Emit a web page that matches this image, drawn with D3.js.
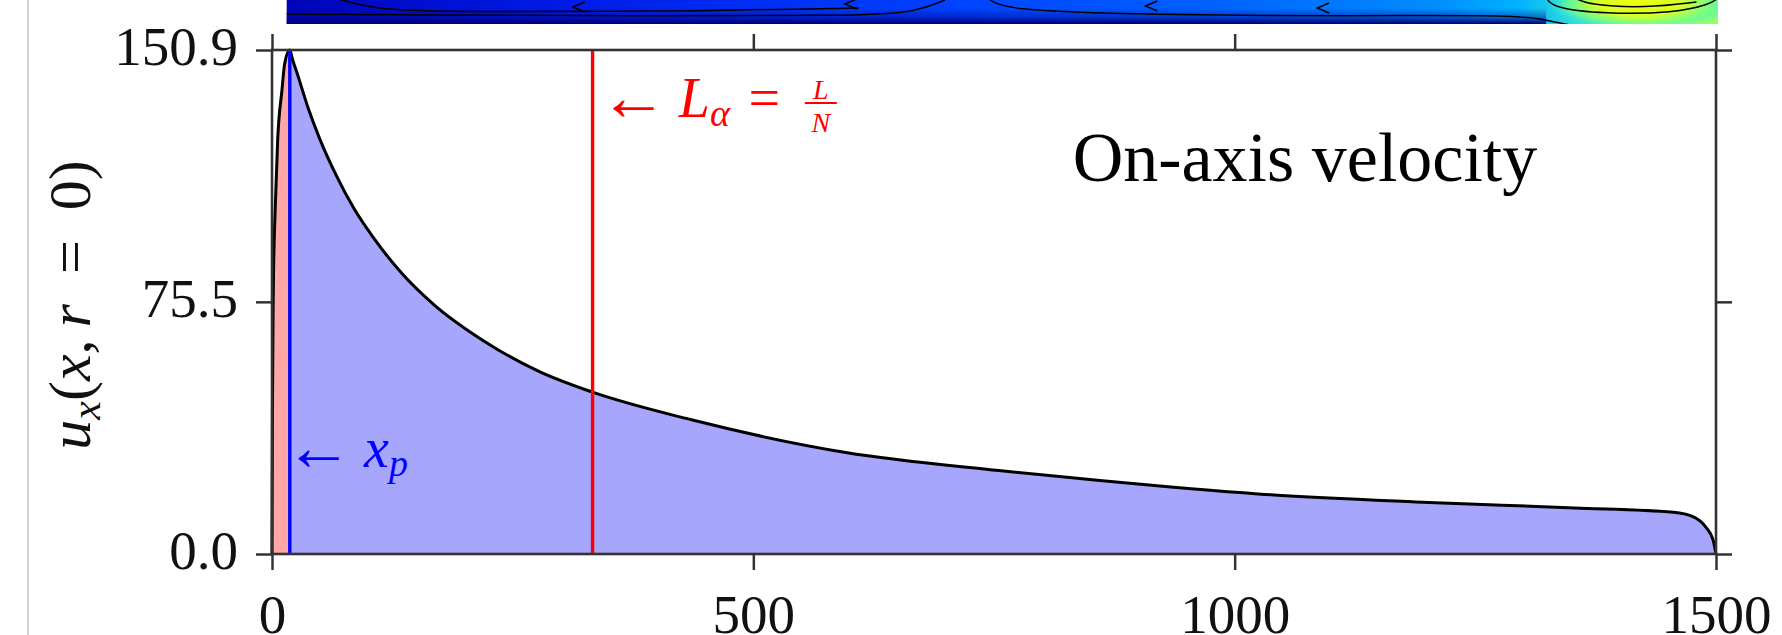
<!DOCTYPE html>
<html>
<head>
<meta charset="utf-8">
<script src="https://cdn.jsdelivr.net/npm/d3@7.9.0/dist/d3.min.js"></script>
<style>
  html, body { margin: 0; padding: 0; background: #fff; overflow: hidden; }
  svg { display: block; }
  text { font-family: "Liberation Serif", "DejaVu Serif", serif; }
</style>
</head>
<body>
<svg id="chart" width="1782" height="635"></svg>
<script>
// values
const xTicks = [0, 500, 1000, 1500];
const yTicks = [0, 75.5, 150.9];
const xPos = [0, 0.5, 1.2, 1.6, 3.4, 5.9, 10.4, 13, 18.5, 21.4, 26.6, 37, 50, 66.5, 85, 104.6, 135, 166.9, 220, 277.8, 331.5, 436.8, 596, 755, 860, 1024, 1188, 1353, 1456, 1476, 1489, 1497, 1500];
const uAxis = [0, 45, 75, 84, 104, 124, 139, 146.5, 150.9, 148, 143.5, 134, 124, 113.5, 103.5, 95, 84, 75, 63.8, 54.6, 48.6, 40.1, 30.4, 25, 22, 18, 15.6, 13.8, 12.5, 11.2, 8.2, 4.2, 0];
const xPeak = 18.5;
const lAlpha = 333;
const stripExtent = [15, 1502];

const data = xPos.map((d, i) => ({ x: d, u: uAxis[i] }));

const svg = d3.select("#chart");
const margin = { top: 50, right: 66, bottom: 81, left: 272 };
const width = +svg.attr("width") - margin.left - margin.right;
const height = +svg.attr("height") - margin.top - margin.bottom;

// page border line on the far left
svg.append("line")
  .attr("x1", 28).attr("x2", 28).attr("y1", 0).attr("y2", 635)
  .attr("stroke", "#d2d2d2").attr("stroke-width", 2);

const g = svg.append("g").attr("transform", `translate(${margin.left},${margin.top})`);

const x = d3.scaleLinear().domain([0, 1500]).range([0, width]);
const y = d3.scaleLinear().domain([0, 150.9]).range([height, 0]);

// --- the cropped colour-map strip above the axes ---
const defs = svg.append("defs");
const hg = defs.append("linearGradient").attr("id", "stripH");
[[0, "#0004b8"], [0.2, "#001ce8"], [0.45, "#0040ff"], [0.65, "#0062ff"], [0.8, "#008cff"],
 [0.86, "#00b2ff"], [0.9, "#30dcd8"], [0.95, "#c0ff40"], [1, "#90ff70"]]
  .forEach(([o, c]) => hg.append("stop").attr("offset", o).attr("stop-color", c));
const vg = defs.append("linearGradient").attr("id", "stripV").attr("x1", 0).attr("x2", 0).attr("y1", 0).attr("y2", 1);
vg.append("stop").attr("offset", 0).attr("stop-color", "#000080").attr("stop-opacity", 0);
vg.append("stop").attr("offset", 0.55).attr("stop-color", "#000090").attr("stop-opacity", 0.4);
vg.append("stop").attr("offset", 1).attr("stop-color", "#00006a").attr("stop-opacity", 1);
const rg = defs.append("radialGradient").attr("id", "stripBlob");
rg.append("stop").attr("offset", 0).attr("stop-color", "#f0ff10");
rg.append("stop").attr("offset", 0.45).attr("stop-color", "#d8ff28");
rg.append("stop").attr("offset", 0.75).attr("stop-color", "#70ff88").attr("stop-opacity", 0.8);
rg.append("stop").attr("offset", 1).attr("stop-color", "#20e0ff").attr("stop-opacity", 0);
defs.append("clipPath").attr("id", "stripClip").append("rect")
  .attr("x", x(stripExtent[0])).attr("y", -margin.top).attr("width", x(stripExtent[1]) - x(stripExtent[0])).attr("height", 24);

const strip = g.append("g").attr("clip-path", "url(#stripClip)");
const sx0 = x(stripExtent[0]), sw = x(stripExtent[1]) - x(stripExtent[0]);
const sy = f => -margin.top + f;
strip.append("rect").attr("x", sx0).attr("y", sy(0)).attr("width", sw).attr("height", 24).attr("fill", "url(#stripH)");
strip.append("rect").attr("x", sx0).attr("y", sy(8)).attr("width", sw * 0.88).attr("height", 16).attr("fill", "url(#stripV)");
strip.append("ellipse").attr("cx", sx0 + sw * 0.945).attr("cy", sy(4)).attr("rx", 95).attr("ry", 26).attr("fill", "url(#stripBlob)");
const contour = d3.line().curve(d3.curveBasis);
const cpaths = [
  [[0, 14], [0.1, 15], [0.25, 16], [0.4, 16], [0.44, 12], [0.46, 0]],
  [[0.03, -4], [0.06, 10], [0.12, 12], [0.3, 11], [0.4, 8]],
  [[0.49, -2], [0.5, 10], [0.6, 15], [0.75, 16], [0.86, 15], [0.88, 20], [0.9, 26]],
  [[0.88, -2], [0.885, 8], [0.92, 14], [0.97, 13], [0.995, 4], [1, -2]],
  [[0.9, -2], [0.91, 5], [0.95, 8], [0.985, 2]]
];
cpaths.forEach(p => strip.append("path")
  .attr("d", contour(p.map(([f, v]) => [sx0 + f * sw, sy(v)])))
  .attr("fill", "none").attr("stroke", "#000").attr("stroke-width", 1.5));
[[0.2, 7], [0.39, 4], [0.6, 6], [0.72, 8]].forEach(([f, v]) => strip.append("path")
  .attr("d", `M${sx0 + f * sw + 12},${sy(v - 5)} L${sx0 + f * sw},${sy(v)} L${sx0 + f * sw + 12},${sy(v + 5)}`)
  .attr("fill", "none").attr("stroke", "#000").attr("stroke-width", 1.4));

// --- filled areas under the curve ---
const area = d3.area().x(d => x(d.x)).y0(y(0)).y1(d => y(d.u)).curve(d3.curveMonotoneX);
const line = d3.line().x(d => x(d.x)).y(d => y(d.u)).curve(d3.curveMonotoneX);

g.append("path").datum(data.filter(d => d.x <= xPeak))
  .attr("fill", "#ffa6a6").attr("d", area);
g.append("path").datum(data.filter(d => d.x >= xPeak))
  .attr("fill", "#a6a6fd").attr("d", area);

g.append("path").datum(data)
  .attr("fill", "none").attr("stroke", "#000").attr("stroke-width", 3)
  .attr("stroke-linejoin", "round").attr("d", line);

g.append("line")
  .attr("x1", x(xPeak)).attr("x2", x(xPeak)).attr("y1", y(0)).attr("y2", y(150.9))
  .attr("stroke", "#0000ff").attr("stroke-width", 3.4);
g.append("line")
  .attr("x1", x(lAlpha)).attr("x2", x(lAlpha)).attr("y1", y(0)).attr("y2", y(150.9))
  .attr("stroke", "#ff0000").attr("stroke-width", 3.4);

// --- axes: ticks outward on all four sides ---
function styleAxis(sel) {
  sel.select(".domain").remove();
  sel.selectAll(".tick line").attr("stroke", "#333").attr("stroke-width", 2.5);
  sel.selectAll(".tick text").attr("fill", "#111").style("font-size", "55px")
    .style("font-family", "'Liberation Serif', 'DejaVu Serif', serif");
}
g.append("g").attr("transform", `translate(0,${height})`)
  .call(d3.axisBottom(x).tickValues(xTicks).tickFormat(d3.format("d")).tickSize(16).tickPadding(24))
  .call(styleAxis);
g.append("g")
  .call(d3.axisTop(x).tickValues(xTicks).tickFormat("").tickSize(16))
  .call(styleAxis);
g.append("g")
  .call(d3.axisLeft(y).tickValues(yTicks).tickFormat(d3.format(".1f")).tickSize(16).tickPadding(18))
  .call(styleAxis)
  .selectAll(".tick text").attr("dy", "0.26em");
g.append("g").attr("transform", `translate(${width},0)`)
  .call(d3.axisRight(y).tickValues(yTicks).tickFormat("").tickSize(16))
  .call(styleAxis);

g.append("rect").attr("width", width).attr("height", height)
  .attr("fill", "none").attr("stroke", "#333").attr("stroke-width", 2.6);

// --- y axis label u_x(x, r = 0) ---
const yl = g.append("text")
  .attr("transform", `translate(-182,255) rotate(-90)`)
  .attr("text-anchor", "middle")
  .style("font-size", "60px").attr("fill", "#111");
yl.append("tspan").style("font-style", "italic").text("u");
yl.append("tspan").style("font-style", "italic").style("font-size", "42px").attr("dy", 10).text("x");
yl.append("tspan").attr("dy", -10).text("(");
yl.append("tspan").style("font-style", "italic").text("x");
yl.append("tspan").text(",\u2009");
yl.append("tspan").style("font-style", "italic").text("r");
yl.append("tspan").text("\u2002=\u20020)");

// --- annotations ---
const laX = x(lAlpha) + 7;
const la = g.append("text")
  .attr("x", laX).attr("y", 67)
  .attr("fill", "#ff0000").style("font-size", "56px");
la.append("tspan").style("font-size", "68px").attr("dy", 3).text("\u2190");
la.append("tspan").attr("dy", -3).text("\u2009");
la.append("tspan").style("font-style", "italic").text("L");
la.append("tspan").style("font-style", "italic").style("font-size", "38px").attr("dy", 9).text("\u03b1");
la.append("tspan").attr("dy", -9).text("\u2004=\u2004");
const laEnd = laX + la.node().getComputedTextLength() + 6;
g.append("text").attr("x", laEnd + 16).attr("y", 49).attr("text-anchor", "middle")
  .attr("fill", "#ff0000").style("font-size", "28px").style("font-style", "italic").text("L");
g.append("line").attr("x1", laEnd).attr("x2", laEnd + 32).attr("y1", 53).attr("y2", 53)
  .attr("stroke", "#ff0000").attr("stroke-width", 2);
g.append("text").attr("x", laEnd + 16).attr("y", 82).attr("text-anchor", "middle")
  .attr("fill", "#ff0000").style("font-size", "28px").style("font-style", "italic").text("N");

const xpL = g.append("text")
  .attr("x", x(xPeak) - 5).attr("y", 417)
  .attr("fill", "#0000ff").style("font-size", "56px");
xpL.append("tspan").style("font-size", "68px").attr("dy", 3).text("\u2190");
xpL.append("tspan").attr("dy", -3).text("\u2009");
xpL.append("tspan").style("font-style", "italic").text("x");
xpL.append("tspan").style("font-style", "italic").style("font-size", "38px").attr("dy", 9).text("p");

g.append("text")
  .attr("x", 1072.7 - margin.left).attr("y", 181 - margin.top)
  .attr("fill", "#000").style("font-size", "70px")
  .text("On-axis velocity");
</script>
</body>
</html>
